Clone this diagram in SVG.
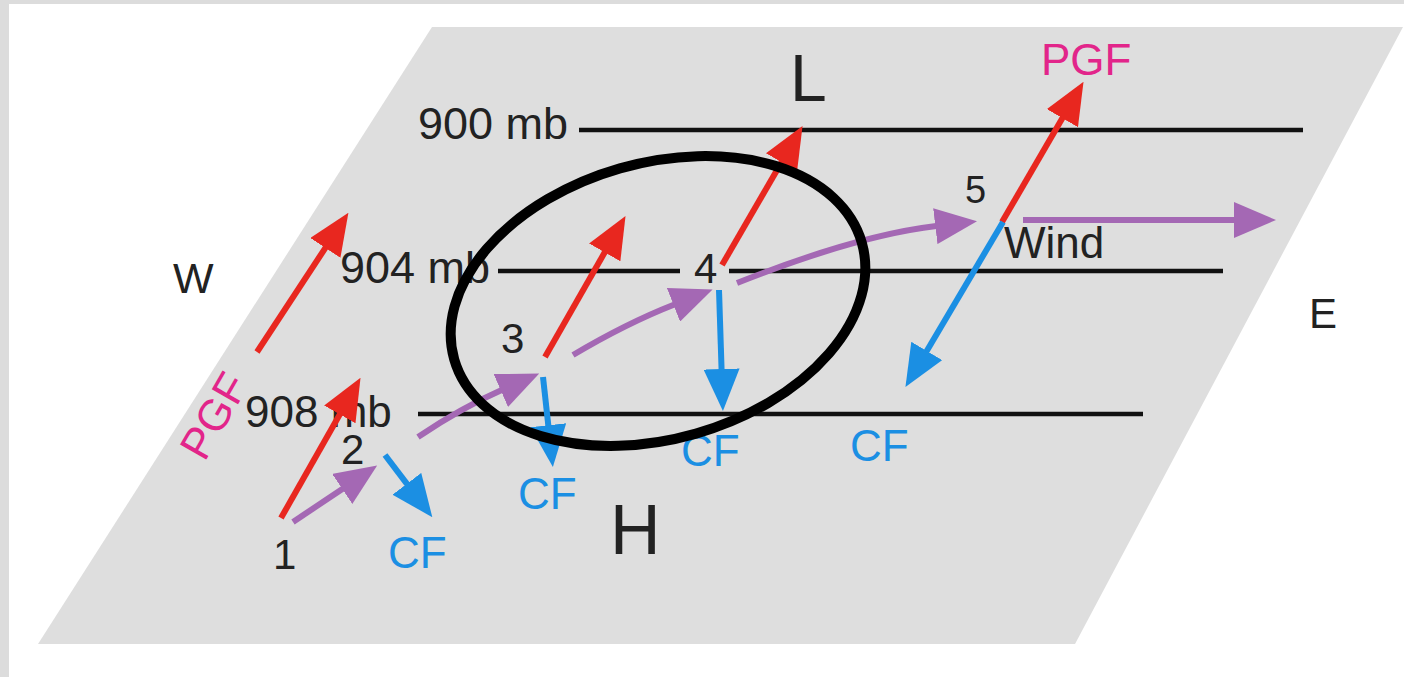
<svg xmlns="http://www.w3.org/2000/svg" width="1404" height="677" viewBox="0 0 1404 677">
<style>
.t{font-family:"Liberation Sans",Arial,sans-serif;fill:#222}
.cf{font-family:"Liberation Sans",Arial,sans-serif;fill:#1b8fe3;font-size:44px}
.pgf{font-family:"Liberation Sans",Arial,sans-serif;fill:#e2258a;font-size:44px}
.lev{stroke:#111;stroke-width:4.5;fill:none}
.r{stroke:#e8271f;stroke-width:6;fill:none;marker-end:url(#mr)}
.p{stroke:#a468b4;stroke-width:6;fill:none;marker-end:url(#mp)}
.b{stroke:#1b8fe3;stroke-width:6;fill:none;marker-end:url(#mb)}
</style>
<defs>
<marker id="mr" viewBox="0 0 42 36" refX="1" refY="18" markerWidth="42" markerHeight="36" markerUnits="userSpaceOnUse" orient="auto"><path d="M0,0 L42,18 L0,36 Z" fill="#e8271f"/></marker>
<marker id="mp" viewBox="0 0 42 36" refX="1" refY="18" markerWidth="42" markerHeight="36" markerUnits="userSpaceOnUse" orient="auto"><path d="M0,0 L42,18 L0,36 Z" fill="#a468b4"/></marker>
<marker id="mb" viewBox="0 0 42 36" refX="1" refY="18" markerWidth="42" markerHeight="36" markerUnits="userSpaceOnUse" orient="auto"><path d="M0,0 L42,18 L0,36 Z" fill="#1b8fe3"/></marker>
</defs>
<rect x="0" y="0" width="1404" height="677" fill="#dcdcdc"/>
<rect x="9" y="4" width="1395" height="673" fill="#ffffff"/>
<g id="plane"><polygon points="432,27 1403,27 1075,644 38,644" fill="#dedede"/></g>
<g id="isobars">
<line class="lev" x1="579" y1="130" x2="1303" y2="130"/>
<line class="lev" x1="498" y1="271" x2="680" y2="271"/>
<line class="lev" x1="729" y1="271" x2="1223" y2="271"/>
<line class="lev" x1="418" y1="414" x2="1143" y2="414"/>
</g>
<g id="labels">
<text class="t" x="418" y="139" font-size="45">900 mb</text>
<text class="t" x="340" y="283" font-size="45">904 mb</text>
<text class="t" x="245" y="427" font-size="44">908 mb</text>
<text class="t" x="790" y="101" font-size="66">L</text>
<text class="t" x="610" y="554" font-size="70">H</text>
<text class="t" x="173" y="293" font-size="43">W</text>
<text class="t" x="1309" y="328" font-size="42">E</text>
<text class="t" x="1004" y="258" font-size="44">Wind</text>
<text class="pgf" x="1041" y="75">PGF</text>
<text class="pgf" transform="translate(214,416) rotate(-60)" x="0" y="15" text-anchor="middle">PGF</text>
</g>
<g id="points">
<text class="t" x="273" y="569" font-size="42">1</text>
<text class="t" x="341" y="464" font-size="42">2</text>
<text class="t" x="501" y="353" font-size="42">3</text>
<text class="t" x="694" y="283" font-size="42">4</text>
<text class="t" x="965" y="203" font-size="38">5</text>
<text class="cf" x="388" y="568">CF</text>
<text class="cf" x="518" y="509">CF</text>
<text class="cf" x="681" y="466">CF</text>
<text class="cf" x="850" y="461">CF</text>
</g>
<g id="connectors">
<path class="r" d="M257,352 L325.9,247.1"/>
<path class="r" d="M281,518 L340.3,413.5"/>
<path class="r" d="M545,357 L605.2,251.5"/>
<path class="r" d="M722,265 L782,161.4"/>
<path class="r" d="M1002,222 L1062.9,117.3"/>
<path class="p" d="M293,522 L343.1,488.4"/>
<path class="p" d="M418,437 C445,419 478,400.5 501.7,390.1"/>
<path class="p" d="M573,355 C605,336 645,316 674.4,304.5"/>
<path class="p" d="M737,283 C790,262 870,234 936.3,226.1"/>
<path class="p" d="M1023,220 L1235,220"/>
<path class="b" d="M385,455 L407.5,484.6"/>
<path class="b" d="M543,377 L548.4,426.2"/>
<path class="b" d="M719,290 L721.6,370"/>
<path class="b" d="M1003,222 L926.3,351.8"/>
</g>
<g id="highlight">
<ellipse cx="658" cy="301" rx="212" ry="138" transform="rotate(-16 658 301)" fill="none" stroke="#000" stroke-width="10"/>
</g>
</svg>
